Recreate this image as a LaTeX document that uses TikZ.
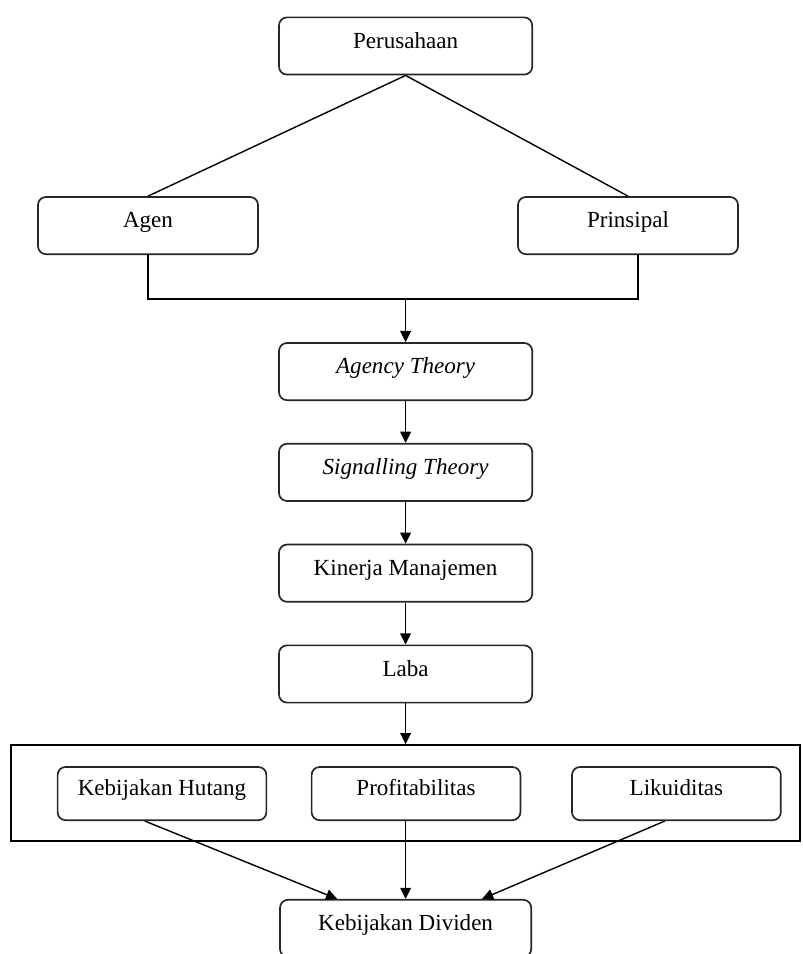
\documentclass[tikz,border=0pt]{standalone}
\usepackage{fontspec}
\setmainfont{Liberation Serif}
\usetikzlibrary{
    arrows.meta,
    calc
}

\begin{document}
\begin{tikzpicture}[
    box/.style={draw=black!85, line width=1.2pt, rounded corners=2mm,
        minimum width=6.33cm, minimum height=1.43cm,
        text height=0.42cm, text depth=0.3cm,
        font=\fontsize{16.4}{19}\selectfont},
    sidebox/.style={box, minimum width=5.5cm},
    subbox/.style={box, minimum width=5.22cm, minimum height=1.33cm},
    line/.style={line width=1pt},
    arr/.style={line, -{Triangle[length=2.8mm,width=2.7mm]}}
]

\useasboundingbox (0,0) rectangle (20.05,23.85);

% Company
\node[box] (per) at (10.14,22.70) {Perusahaan};

% Agent and principal
\node[sidebox] (agen) at (3.70,18.21) {Agen};
\node[sidebox] (prin) at (15.70,18.21) {Prinsipal};

\draw[line] (per.south) -- (agen.north);
\draw[line] (per.south) -- (prin.north);

\coordinate (join) at (10.14,16.375);
\draw[line] (agen.south) |- (join) -| ($(prin.south)+(0.25,0)$);

% Main column
\node[box] (agency) at (10.14,14.56) {\itshape Agency Theory};
\node[box] (signal) at (10.14,12.04) {\itshape Signalling Theory};
\node[box] (kin) at (10.14,9.52) {Kinerja Manajemen};
\node[box] (laba) at (10.14,7.00) {Laba};

\draw[arr] (join) -- (agency.north);
\draw[arr] (agency.south) -- (signal.north);
\draw[arr] (signal.south) -- (kin.north);
\draw[arr] (kin.south) -- (laba.north);

% Group of factors
\node[draw, line width=1.1pt, minimum width=19.725cm, minimum height=2.4cm] (grp) at (10.14,4.025) {};
\draw[arr] (laba.south) -- (grp.north);

\node[subbox] (hut) at (4.05,4.01) {Kebijakan Hutang};
\node[subbox] (prof) at (10.40,4.01) {Profitabilitas};
\node[subbox] (lik) at (16.91,4.01) {Likuiditas};

% Dividend policy
\node[box, minimum width=6.28cm] (div) at (10.14,0.64) {Kebijakan Dividen};

\draw[arr] ($(hut.south)+(-0.43,0)$) -- ($(div.north)+(-1.71,0)$);
\draw[arr] (prof.south -| div.north) -- (div.north);
\draw[arr] ($(lik.south)+(-0.29,0)$) -- ($(div.north)+(1.91,0)$);

\end{tikzpicture}
\end{document}
